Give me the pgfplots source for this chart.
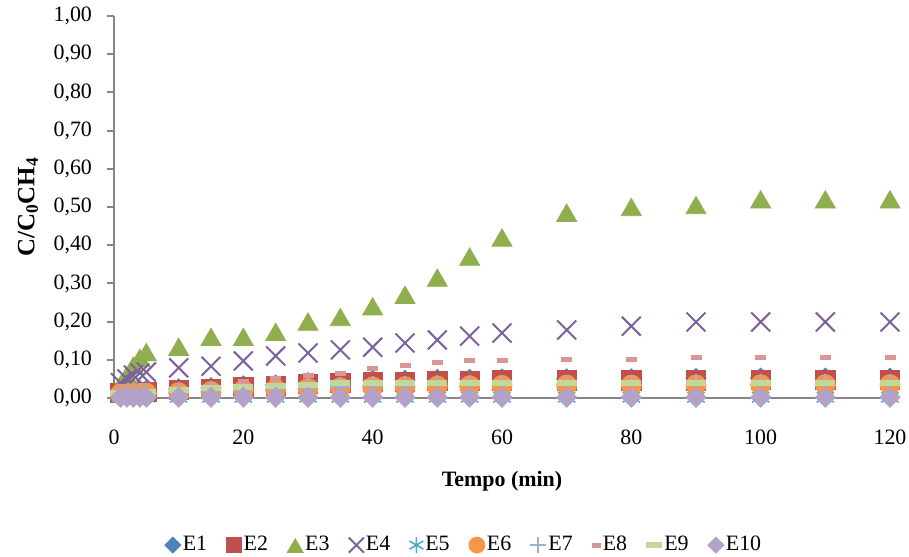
\documentclass[border=0pt]{standalone}
\usepackage{fontspec}
\setmainfont{Liberation Serif}
\usepackage{pgfplots}
\usepackage{pgfplotstable}
\pgfplotsset{compat=1.18}
\definecolor{axgray}{HTML}{868686}
\definecolor{cE1}{HTML}{4F81BD}
\definecolor{cE2}{HTML}{C0504D}
\definecolor{cE3}{HTML}{8FAF4F}
\definecolor{cE4}{HTML}{7D60A0}
\definecolor{cE5}{HTML}{4BACC6}
\definecolor{cE6}{HTML}{F79646}
\definecolor{cE7}{HTML}{95B3D7}
\definecolor{cE8}{HTML}{D99694}
\definecolor{cE9}{HTML}{C3D69B}
\definecolor{cE10}{HTML}{B3A2C7}
\pgfplotstableread{
x    E1    E2    E3    E4    E5    E6    E7    E8    E9    E10
1    0.018 0.013 0.035 0.040 0.002 0.010 0.010 0.012 0.012 0.002
2    0.018 0.014 0.060 0.050 0.002 0.011 0.011 0.013 0.013 0.002
3    0.019 0.015 0.085 0.060 0.002 0.012 0.011 0.014 0.014 0.002
4    0.019 0.015 0.105 0.065 0.002 0.012 0.012 0.015 0.015 0.002
5    0.020 0.016 0.120 0.068 0.002 0.013 0.012 0.016 0.016 0.002
10   0.024 0.021 0.134 0.079 0.002 0.014 0.015 0.022 0.022 0.002
15   0.027 0.024 0.160 0.083 0.002 0.017 0.018 0.030 0.026 0.002
20   0.032 0.029 0.160 0.097 0.002 0.020 0.021 0.042 0.029 0.002
25   0.034 0.031 0.173 0.110 0.002 0.022 0.024 0.052 0.031 0.002
30   0.040 0.037 0.200 0.118 0.002 0.025 0.027 0.058 0.035 0.002
35   0.043 0.039 0.212 0.126 0.002 0.027 0.029 0.065 0.038 0.002
40   0.046 0.042 0.240 0.133 0.002 0.029 0.031 0.076 0.039 0.002
45   0.046 0.042 0.270 0.144 0.002 0.030 0.032 0.086 0.039 0.002
50   0.049 0.045 0.315 0.152 0.002 0.031 0.033 0.094 0.039 0.002
55   0.049 0.045 0.370 0.162 0.002 0.032 0.034 0.097 0.039 0.002
60   0.050 0.046 0.420 0.170 0.002 0.033 0.035 0.099 0.039 0.002
70   0.050 0.046 0.485 0.178 0.002 0.034 0.035 0.100 0.039 0.002
80   0.050 0.046 0.500 0.188 0.002 0.034 0.035 0.102 0.039 0.002
90   0.051 0.046 0.505 0.199 0.002 0.034 0.036 0.105 0.039 0.002
100  0.052 0.048 0.520 0.199 0.002 0.035 0.036 0.105 0.039 0.002
110  0.052 0.048 0.520 0.199 0.002 0.035 0.036 0.105 0.039 0.002
120  0.052 0.048 0.520 0.199 0.002 0.035 0.036 0.105 0.039 0.002
}\data
\begin{document}
\begin{tikzpicture}
\begin{axis}[
  at={(0,0)}, anchor=south west,
  scale only axis, width=388bp, height=191bp,
  xmin=0, xmax=120, ymin=0, ymax=1,
  axis x line*=bottom, axis y line*=left,
  axis line style={draw=axgray, line width=1.1bp},
  xtick={0,20,40,60,80,100,120},
  ytick={0,0.1,0.2,0.3,0.4,0.5,0.6,0.7,0.8,0.9,1},
  x tick style={draw=none},
  y tick style={draw=axgray, line width=1bp},
  tick align=outside, major tick length=3.5bp,
  tick label style={font=\fontsize{11}{13}\selectfont},
  /pgf/number format/assume math mode=true,
  y tick label style={xshift=-4bp, /pgf/number format/.cd, fixed, fixed zerofill, precision=2, use comma},
  x tick label style={yshift=-9bp, /pgf/number format/.cd, fixed, use comma},
  xlabel={\textbf{Tempo (min)}},
  ylabel={\textbf{C/C\textsubscript{0}CH\textsubscript{4}}},
  every axis x label/.style={at={(axis description cs:0.5,-0.217)}, anchor=center, font=\fontsize{11}{13}\selectfont},
  every axis y label/.style={at={(axis description cs:-0.1108,0.5)}, rotate=90, anchor=center, font=\fontsize{12.5}{14}\selectfont},
  clip=false,
  legend columns=10,
  legend style={draw=none, fill=none, at={(axis description cs:0.451,-0.385)}, anchor=center,
    font=\fontsize{11}{13}\selectfont,
    nodes={inner xsep=1bp},
    /tikz/every even column/.append style={column sep=8.6bp}},
  legend image code/.code={\draw[#1, /tikz/every mark/.append style={scale=0.8}] plot coordinates {(4bp,0bp)};},
]
\addplot[only marks, mark=square*, mark size=3.54bp, color=cE1, mark options={rotate=45}] table[x=x,y=E1]{\data};
\addlegendentry{E1}
\addplot[only marks, mark=square*, mark size=4.8bp, color=cE2] table[x=x,y=E2]{\data};
\addlegendentry{E2}
\addplot[only marks, mark=triangle*, mark size=5.77bp, color=cE3, mark options={yshift=-1.44bp}] table[x=x,y=E3]{\data};
\addlegendentry{E3}
\addplot[only marks, mark=x, mark size=6.7bp, color=cE4, mark options={line width=1bp}] table[x=x,y=E4]{\data};
\addlegendentry{E4}
\addplot[only marks, mark=asterisk, mark size=5bp, color=cE5, mark options={line width=0.8bp}] table[x=x,y=E5]{\data};
\addlegendentry{E5}
\addplot[only marks, mark=*, mark size=5bp, color=cE6] table[x=x,y=E6]{\data};
\addlegendentry{E6}
\addplot[only marks, mark=+, mark size=5bp, color=cE7, mark options={line width=1bp}] table[x=x,y=E7]{\data};
\addlegendentry{E7}
\addplot[only marks, mark=-, mark size=2.75bp, color=cE8, mark options={line width=2.5bp}] table[x=x,y=E8]{\data};
\addlegendentry{E8}
\addplot[only marks, mark=-, mark size=5bp, color=cE9, mark options={line width=3bp}] table[x=x,y=E9]{\data};
\addlegendentry{E9}
\addplot[only marks, mark=square*, mark size=3.54bp, color=cE10, mark options={rotate=45}] table[x=x,y=E10]{\data};
\addlegendentry{E10}
\end{axis}
\pgfresetboundingbox
\path (-57bp,-79.5bp) rectangle (397.5bp,199bp);
\end{tikzpicture}
\end{document}
